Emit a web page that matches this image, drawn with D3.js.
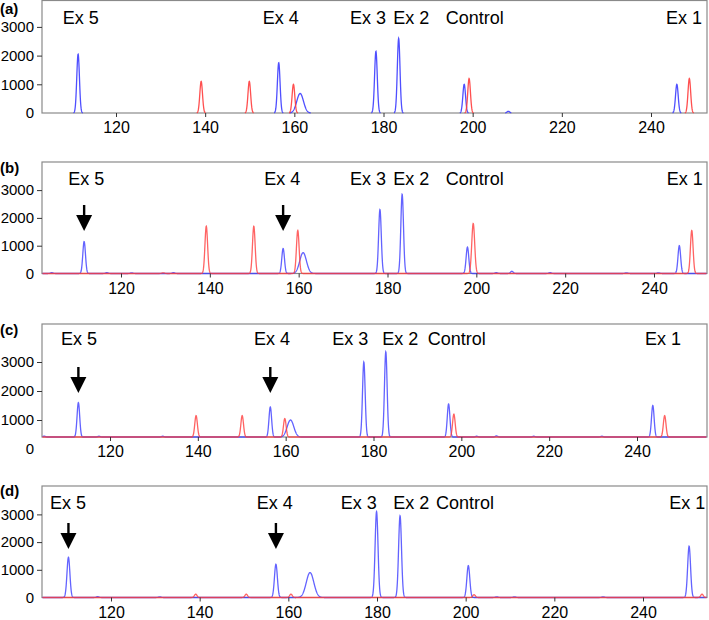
<!DOCTYPE html>
<html><head><meta charset="utf-8">
<script src="https://cdn.jsdelivr.net/npm/d3@7"></script>
<style>
html,body{margin:0;padding:0;background:#fff;}
svg{display:block;font-family:"Liberation Sans",Arial,sans-serif;}
</style></head>
<body>
<svg id="chart" width="709" height="620"></svg>
<script>
// ---------------- DATA ----------------
const panelNames = ["(a)", "(b)", "(c)", "(d)"];
const exonLabels = ["Ex 5", "Ex 4", "Ex 3", "Ex 2", "Control", "Ex 1"];
const xTickValues = [120, 140, 160, 180, 200, 220, 240];
const yTickValues = [0, 1000, 2000, 3000];
// signal baseline level per panel
const baselineLevels = [0, 0, 410, 0];
// peaks: [size (bp), height (RFU), width sigma (bp)]
const bluePeaksA = [[111.5,2050,0.3],[156.5,1750,0.3],[161.3,680,0.75],[178.3,2150,0.3],[183.4,2600,0.3],[198.1,1000,0.3],[208.0,60,0.3],[245.8,1000,0.3]];
const redPeaksA  = [[139.1,1100,0.3],[149.9,1100,0.3],[159.8,1000,0.3],[199.2,1200,0.3],[248.6,1200,0.3]];
const bluePeaksB = [[104.4,30,0.3],[111.7,1150,0.3],[116.8,30,0.3],[122.4,25,0.3],[131.8,30,0.3],[156.5,900,0.3],[161.0,750,0.75],[178.3,2300,0.3],[183.3,2850,0.3],[198.0,950,0.3],[204.5,30,0.3],[208.0,80,0.3],[216.6,30,0.3],[233.8,25,0.3],[241.0,25,0.3],[245.7,1000,0.3]];
const redPeaksB  = [[129.5,25,0.3],[139.2,1700,0.3],[149.9,1700,0.3],[159.8,1550,0.3],[199.3,1800,0.33],[248.5,1550,0.3]];
const bluePeaksC = [[105.0,445,0.3],[112.8,1600,0.3],[117.5,440,0.3],[132.0,440,0.3],[156.5,1450,0.3],[161.1,1000,0.75],[177.8,3000,0.3],[182.8,3350,0.3],[197.1,1550,0.3],[203.5,440,0.3],[208.0,450,0.3],[216.5,440,0.3],[232.0,440,0.3],[243.6,1500,0.3]];
const redPeaksC  = [[139.6,1150,0.3],[150.1,1150,0.3],[159.8,1050,0.3],[198.3,1200,0.3],[246.3,1150,0.3]];
const bluePeaksD = [[110.4,1450,0.33],[117.0,30,0.3],[131.0,25,0.3],[157.2,1200,0.33],[164.9,900,0.85],[179.9,3100,0.33],[185.2,2950,0.33],[200.6,1150,0.33],[207.0,25,0.3],[211.0,25,0.3],[231.0,25,0.3],[250.4,1850,0.33]];
const redPeaksD  = [[139.1,120,0.3],[150.5,120,0.3],[160.6,120,0.3],[201.9,100,0.3],[253.3,120,0.3]];
const bluePeaks = [bluePeaksA, bluePeaksB, bluePeaksC, bluePeaksD];
const redPeaks  = [redPeaksA, redPeaksB, redPeaksC, redPeaksD];
// arrows mark the missing/reduced exon peaks (bp)
const arrowSizes = [[], [111.7, 156.5], [112.8, 156.5], [110.4, 157.2]];

// ---------------- LAYOUT ----------------
const layout = [
  {top:0.5, bottom:113,   y0:113,   px1000:28.7, x120:116, x240:651, labelBase:24,  labelX:[62.7,262.7,350,393.3,445.7,666], tagBase:14,  arrowTop:0,  arrowTip:0,  showBase:false},
  {top:162, bottom:273.5, y0:273.5, px1000:27.8, x120:121, x240:654, labelBase:185, labelX:[68.3,264.3,350,393.3,445.7,666.7], tagBase:173, arrowTop:205, arrowTip:231, showBase:true},
  {top:324, bottom:437,   y0:449,   px1000:29.0, x120:110, x240:637, labelBase:345, labelX:[61,254,332.3,382.3,427.7,645], tagBase:335, arrowTop:367, arrowTip:393, showBase:true},
  {top:486, bottom:597.5, y0:597.5, px1000:27.7, x120:111, x240:643, labelBase:509, labelX:[50,256.7,340.7,393.3,436,669.3], tagBase:496, arrowTop:523, arrowTip:549, showBase:true}
];
const LEFT = 42, RIGHT = 707;
const BLUE = "#3c3cff", RED = "#ff3c3c", FRAME = "#8a8a8a";
const FONT = "Liberation Sans, Arial, sans-serif";

const svg = d3.select("#chart");

layout.forEach((L, i) => {
  const x = d3.scaleLinear().domain([120, 240]).range([L.x120, L.x240]);
  const y = d3.scaleLinear().domain([0, 1000]).range([L.y0, L.y0 - L.px1000]);
  const g = svg.append("g");
  const base = baselineLevels[i];
  const x0 = x.invert(LEFT + 0.5), x1 = x.invert(RIGHT - 0.5);
  const xs = d3.range(x0, x1, 0.04);

  // frame
  g.append("rect").attr("x", LEFT).attr("y", L.top).attr("width", RIGHT - LEFT).attr("height", L.bottom - L.top)
    .attr("fill", "none").attr("stroke", FRAME).attr("stroke-width", 1.2);

  // traces
  const line = d3.line().x(d => x(d[0])).y(d => Math.min(y(d[1]), L.bottom));
  function trace(peaks) {
    return xs.map(v => {
      let s = base;
      peaks.forEach(p => { s += (p[1] - base) * Math.exp(-((v - p[0]) ** 2) / (2 * p[2] * p[2])); });
      return [v, s];
    });
  }
  [[bluePeaks[i], BLUE], [redPeaks[i], RED]].forEach(([pk, col]) => {
    let pts = trace(pk);
    if (!L.showBase) {
      const segs = [];
      let cur = null;
      pts.forEach(p => {
        if (p[1] - base > 4) { if (!cur) { cur = []; segs.push(cur); } cur.push(p); }
        else cur = null;
      });
      segs.forEach(s => g.append("path").attr("d", line(s)).attr("fill", "none").attr("stroke", col).attr("stroke-width", 1.3).attr("stroke-opacity", 0.9));
    } else {
      g.append("path").attr("d", line(pts)).attr("fill", "none").attr("stroke", col).attr("stroke-width", 1.3).attr("stroke-opacity", 0.8);
    }
  });

  // x axis
  const xa = g.append("g").attr("transform", `translate(0,${L.bottom})`)
    .call(d3.axisBottom(x).tickValues(xTickValues).tickSize(4).tickPadding(5).tickFormat(d3.format("d")));
  xa.select(".domain").remove();
  xa.selectAll("line").attr("stroke", "#333");
  xa.selectAll("text").attr("font-size", 16).attr("fill", "#000").attr("font-family", FONT);

  // y axis
  const ya = g.append("g").attr("transform", `translate(${LEFT},0)`)
    .call(d3.axisLeft(y).tickValues(yTickValues).tickSize(5).tickPadding(3).tickFormat(d3.format("d")));
  ya.select(".domain").remove();
  ya.selectAll("line").attr("stroke", "#333");
  ya.selectAll(".tick").filter(d => d === 0).select("line").remove();
  ya.selectAll("text").attr("font-size", 15).attr("fill", "#000").attr("font-family", FONT);

  // exon labels
  exonLabels.forEach((t, k) => {
    g.append("text").attr("x", L.labelX[k]).attr("y", L.labelBase).attr("font-size", 18).attr("fill", "#000").text(t);
  });

  // panel tag
  g.append("text").attr("x", 0).attr("y", L.tagBase).attr("font-size", 15).attr("font-weight", "bold").attr("fill", "#000").text(panelNames[i]);

  // arrows
  arrowSizes[i].forEach(s => {
    const cx = x(s);
    g.append("line").attr("x1", cx).attr("x2", cx).attr("y1", L.arrowTop).attr("y2", L.arrowTip - 12)
      .attr("stroke", "#000").attr("stroke-width", 2.4);
    g.append("path").attr("d", `M${cx - 8},${L.arrowTip - 16} L${cx + 8},${L.arrowTip - 16} L${cx},${L.arrowTip} Z`).attr("fill", "#000");
  });
});
</script>
</body></html>
